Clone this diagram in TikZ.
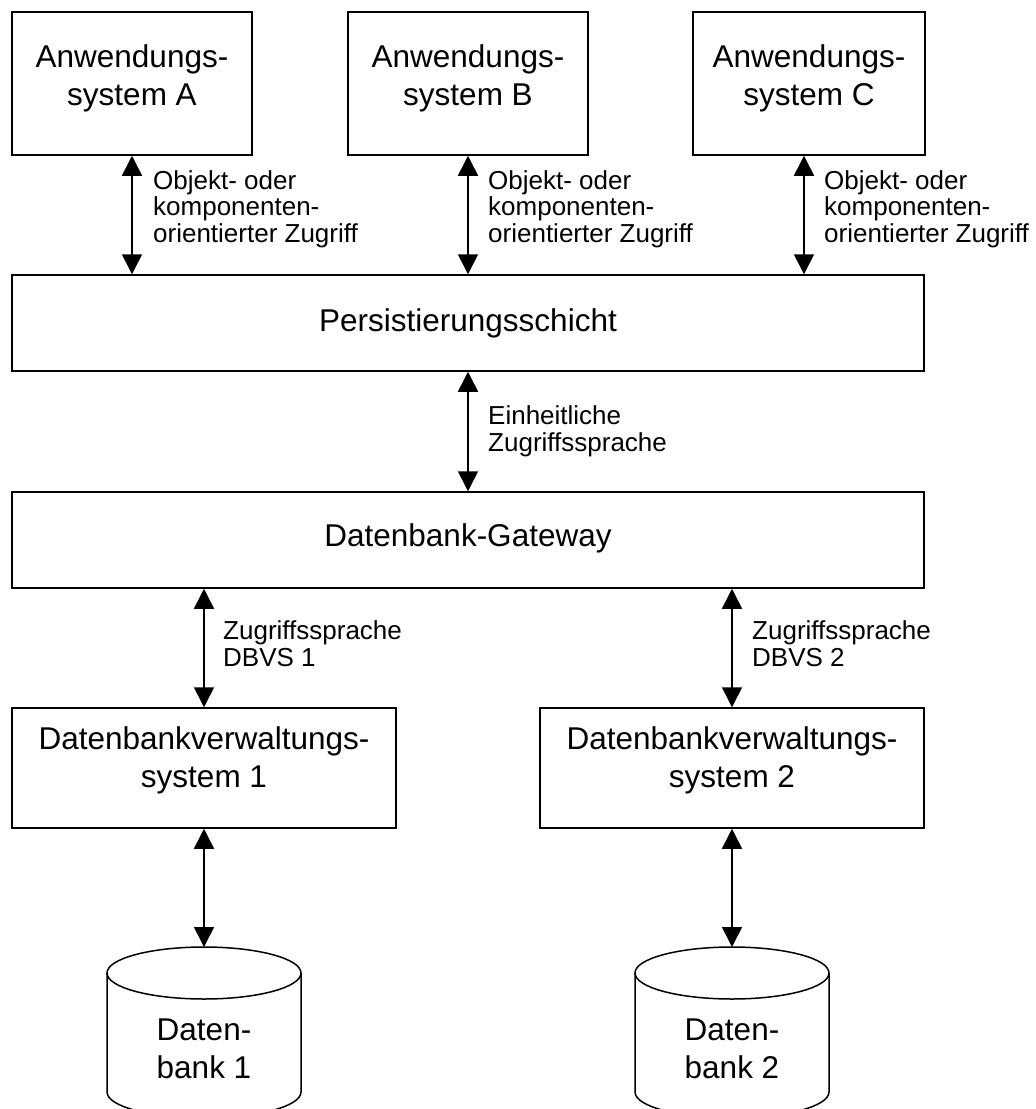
\documentclass[tikz,border=0pt]{standalone}
\usepackage{fontspec}
\setmainfont{Liberation Sans}
\usetikzlibrary{arrows.meta}
\begin{document}
\begin{tikzpicture}[x=1pt,y=-1pt,
  box/.style={draw, line width=1.5pt, inner sep=0pt},
  % multi-line nodes: the base anchor sits on the last line
  boxtext/.style={font=\fontsize{31.5}{38}\selectfont, align=center, inner sep=0pt, anchor=base},
  lbl/.style={font=\fontsize{26}{26.5}\selectfont, align=left, inner sep=0pt, anchor=base west},
  tip/.tip={Triangle[width=20pt,length=20pt]},
  link/.style={line width=1.6pt, tip-tip},
  drum/.style={line width=1.5pt}
]
\useasboundingbox (0,0) rectangle (1036,1109);

% application systems
\node[box, minimum width=240pt, minimum height=143pt] (appA) at (132,83.5) {};
\node[box, minimum width=240pt, minimum height=143pt] (appB) at (468,83.5) {};
\node[box, minimum width=232pt, minimum height=143pt] (appC) at (809,83.5) {};
\node[boxtext] (appAt) at (132,105) {Anwendungs-\\system A};
\node[boxtext] (appBt) at (468,105) {Anwendungs-\\system B};
\node[boxtext] (appCt) at (809,105) {Anwendungs-\\system C};

% layers
\node[box, minimum width=912pt, minimum height=96pt] (pers) at (468,323) {};
\node[boxtext] (perst) at (468,331) {Persistierungsschicht};
\node[box, minimum width=912pt, minimum height=96pt] (gw) at (468,540) {};
\node[boxtext] (gwt) at (468,546) {Datenbank-Gateway};

% database management systems
\node[box, minimum width=384pt, minimum height=120pt] (dbvs1) at (204,768) {};
\node[box, minimum width=384pt, minimum height=120pt] (dbvs2) at (732,768) {};
\node[boxtext] (dbvs1t) at (204,787) {Datenbankverwaltungs-\\system 1};
\node[boxtext] (dbvs2t) at (732,787) {Datenbankverwaltungs-\\system 2};

% databases
\coordinate (db1) at (204,947);
\coordinate (db2) at (732,947);
\foreach \c in {204,732}{
  \draw[drum] (\c,973) ellipse [x radius=97, y radius=26];
  \draw[drum] (\c-97,973) -- (\c-97,1092)
     arc[start angle=180, end angle=0, x radius=97, y radius=26] -- (\c+97,973);
}
\node[boxtext] (db1t) at (204,1078) {Daten-\\bank 1};
\node[boxtext] (db2t) at (732,1078) {Daten-\\bank 2};

% connectors
\draw[link] (appA.south) -- (appA.south |- pers.north);
\draw[link] (appB.south) -- (appB.south |- pers.north);
\draw[link] ([xshift=-5pt]appC.south) -- ([xshift=-5pt]appC.south |- pers.north);
\draw[link] (pers.south) -- (pers.south |- gw.north);
\draw[link] (dbvs1.north |- gw.south) -- (dbvs1.north);
\draw[link] (dbvs2.north |- gw.south) -- (dbvs2.north);
\draw[link] (dbvs1.south) -- (db1);
\draw[link] (dbvs2.south) -- (db2);

% connector labels
\node[lbl] (lA) at (153,242) {Objekt- oder\\komponenten-\\orientierter Zugriff};
\node[lbl] (lB) at (488,242) {Objekt- oder\\komponenten-\\orientierter Zugriff};
\node[lbl] (lC) at (824,242) {Objekt- oder\\komponenten-\\orientierter Zugriff};
\node[lbl] (lP) at (488,451) {Einheitliche\\Zugriffssprache};
\node[lbl] (l1) at (223,666) {Zugriffssprache\\DBVS 1};
\node[lbl] (l2) at (752,666) {Zugriffssprache\\DBVS 2};
\end{tikzpicture}
\end{document}
